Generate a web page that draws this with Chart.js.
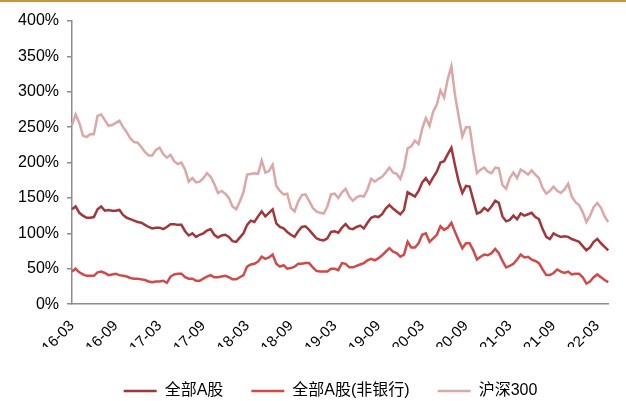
<!DOCTYPE html>
<html>
<head>
<meta charset="utf-8">
<script src="https://cdn.jsdelivr.net/npm/chart.js@4/dist/chart.umd.min.js"></script>
<style>
  body { margin: 0; background: #fff; }
  #wrap { position: relative; width: 626px; height: 401px; }
  #topbar { position: absolute; left: 0; top: 0; width: 626px; height: 2px; background: #C8963E; }
</style>
</head>
<body>
<div id="wrap">
  <canvas id="grafico" width="626" height="401"></canvas>
  <div id="topbar"></div>
</div>
<script>
// half-month points starting 2016-03
var inicio = { anio: 16, mes: 3 };
var etiquetas = ['16-03', '16-09', '17-03', '17-09', '18-03', '18-09', '19-03', '19-09', '20-03', '20-09', '21-03', '21-09', '22-03'];
var yTicks = [0, 50, 100, 150, 200, 250, 300, 350, 400];
var series = ['全部A股', '全部A股(非银行)', '沪深300'];

var todaA = [134, 138, 129, 125, 122, 122, 123, 134, 138, 132, 133, 132, 132, 133, 126, 122, 120, 118, 116, 115,
  112, 109, 107, 108, 108, 106, 109, 113, 113, 112, 112, 103, 97, 100, 95, 98, 100, 104, 106, 98,
  94, 97, 98, 95, 89, 88, 94, 100, 112, 118, 116, 124, 131, 124, 129, 134, 114, 109, 107, 102,
  98, 95, 103, 109, 110, 105, 99, 93, 91, 90, 93, 102, 103, 101, 108, 113, 107, 106, 109, 111,
  107, 115, 122, 124, 123, 127, 135, 140, 135, 131, 127, 133, 158, 155, 152, 160, 172, 178, 170, 179,
  187, 200, 202, 212, 221, 196, 173, 157, 167, 166, 147, 128, 130, 136, 132, 138, 146, 143, 124, 117,
  119, 125, 120, 128, 125, 127, 129, 123, 120, 106, 95, 92, 100, 97, 95, 96, 95, 92, 90, 88,
  82, 76, 80, 88, 92, 86, 81, 76];

var noBanco = [46, 50, 45, 42, 40, 40, 40, 45, 46, 44, 41, 42, 43, 41, 40, 39, 37, 36, 36, 35,
  34, 32, 31, 32, 32, 33, 30, 39, 42, 43, 43, 38, 36, 36, 33, 33, 36, 39, 41, 38,
  38, 39, 40, 38, 35, 35, 38, 41, 53, 56, 57, 60, 67, 64, 66, 70, 57, 53, 55, 50,
  51, 53, 57, 57, 58, 58, 52, 47, 46, 46, 46, 50, 50, 48, 58, 57, 52, 52, 54, 56,
  58, 62, 64, 62, 65, 69, 74, 79, 74, 72, 67, 70, 88, 80, 80, 86, 98, 100, 88, 93,
  98, 110, 105, 108, 115, 102, 90, 79, 86, 86, 76, 63, 67, 70, 69, 72, 78, 72, 61, 52,
  54, 57, 63, 70, 66, 67, 63, 61, 58, 49, 41, 41, 44, 49, 46, 44, 46, 42, 43, 43,
  38, 29, 32, 38, 42, 38, 34, 31];

var hs300 = [253, 268, 256, 238, 236, 240, 240, 266, 268, 260, 252, 253, 256, 259, 250, 243, 234, 229, 228, 222,
  215, 210, 210, 218, 221, 212, 207, 211, 202, 198, 200, 190, 173, 178, 172, 173, 178, 185, 180, 170,
  157, 160, 156, 150, 138, 134, 145, 158, 183, 184, 185, 184, 203, 186, 188, 197, 167, 160, 155, 156,
  136, 131, 145, 154, 155, 146, 136, 131, 129, 128, 138, 155, 156, 150, 158, 163, 152, 146, 151, 153,
  152, 162, 177, 173, 177, 180, 186, 193, 186, 184, 177, 192, 220, 223, 231, 226, 248, 263, 252, 272,
  282, 302, 292, 318, 336, 295, 265, 237, 250, 250, 215, 185, 190, 193, 187, 185, 193, 192, 168, 163,
  178, 186, 178, 190, 187, 183, 189, 183, 178, 164, 156, 160, 166, 160, 157, 162, 170, 152, 144, 140,
  130, 116, 125, 137, 143, 136, 124, 116];

var colores = ['#A0373A', '#D04A4A', '#DBA7A7'];

var fechas = [];
for (var i = 0; i < hs300.length; i++) {
  var m = inicio.mes - 1 + Math.floor(i / 2);
  var yy = inicio.anio + Math.floor(m / 12);
  var mm = (m % 12) + 1;
  fechas.push(yy + '-' + (mm < 10 ? '0' + mm : mm));
}

var fuente = "'Liberation Sans', 'Noto Sans CJK SC', sans-serif";
var valores = [todaA, noBanco, hs300];

// nudge the legend right and down, like the original
var moverLeyenda = {
  id: 'moverLeyenda',
  afterLayout: function (chart) {
    chart.legend.left += 40;
    chart.legend.top += 8;
    chart.legend.bottom += 8;
  }
};

var ctx = document.getElementById('grafico').getContext('2d');
var chart = new Chart(ctx, {
  type: 'line',
  data: {
    labels: fechas,
    datasets: series.map(function (nombre, k) {
      return {
        label: nombre,
        data: valores[k],
        borderColor: colores[k],
        backgroundColor: colores[k],
        borderWidth: 2.5,
        pointRadius: 0,
        tension: 0,
        fill: false
      };
    })
  },
  plugins: [moverLeyenda],
  options: {
    responsive: false,
    devicePixelRatio: 1,
    animation: false,
    layout: { padding: { top: 21, right: 5, left: 0, bottom: 0 } },
    plugins: {
      tooltip: { enabled: false },
      legend: {
        position: 'bottom',
        labels: {
          usePointStyle: true,
          pointStyle: 'line',
          pointStyleWidth: 33,
          padding: 28,
          color: '#000',
          font: { family: fuente, size: 16 }
        }
      }
    },
    scales: {
      x: {
        afterFit: function (scale) { scale.height = scale.height - 15; },
        grid: { display: false },
        border: { display: true, color: '#8C8C8C', width: 1.5 },
        ticks: {
          autoSkip: false,
          minRotation: 45,
          maxRotation: 45,
          padding: 5,
          color: '#000',
          font: { family: fuente, size: 15 },
          callback: function (v, idx) {
            var d = fechas[idx];
            return (idx % 2 === 0 && etiquetas.indexOf(d) >= 0) ? d : '';
          }
        }
      },
      y: {
        min: 0,
        max: 400,
        afterFit: function (scale) { scale.width = 72; },
        afterBuildTicks: function (scale) {
          scale.ticks = yTicks.map(function (v) { return { value: v }; });
        },
        grid: { drawOnChartArea: false, drawTicks: true, tickLength: 5, color: '#8C8C8C', lineWidth: 1.5 },
        border: { display: true, color: '#8C8C8C', width: 1.5 },
        ticks: {
          padding: 8,
          color: '#000',
          font: { family: fuente, size: 16 },
          callback: function (v) { return v + '%'; }
        }
      }
    }
  }
});
</script>
</body>
</html>
